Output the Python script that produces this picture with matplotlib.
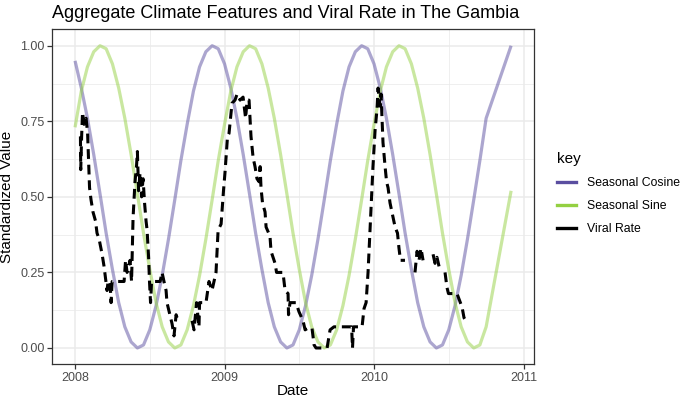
import numpy as np
import matplotlib
matplotlib.use('Agg')
import matplotlib.pyplot as plt
from matplotlib.lines import Line2D

plt.rcParams['font.family'] = ['Liberation Sans', 'DejaVu Sans']

season_t = [
    2008.000, 2008.042, 2008.083, 2008.125, 2008.167, 2008.208, 2008.250, 2008.292,
    2008.333, 2008.375, 2008.417, 2008.458, 2008.500, 2008.542, 2008.583, 2008.625,
    2008.667, 2008.708, 2008.750, 2008.792, 2008.833, 2008.875, 2008.917, 2008.958,
    2009.000, 2009.042, 2009.083, 2009.125, 2009.167, 2009.208, 2009.250, 2009.292,
    2009.333, 2009.375, 2009.417, 2009.458, 2009.500, 2009.542, 2009.583, 2009.625,
    2009.667, 2009.708, 2009.750, 2009.792, 2009.833, 2009.875, 2009.917, 2009.958,
    2010.000, 2010.042, 2010.083, 2010.125, 2010.167, 2010.208, 2010.250, 2010.292,
    2010.333, 2010.375, 2010.417, 2010.458, 2010.500, 2010.542, 2010.583, 2010.625,
    2010.667, 2010.708, 2010.750, 2010.917,
]
seasonal_cos = [
    0.95, 0.86, 0.76, 0.64, 0.51, 0.38, 0.26, 0.15, 0.07, 0.02, 0.00, 0.01,
    0.06, 0.14, 0.24, 0.36, 0.49, 0.62, 0.74, 0.85, 0.93, 0.98, 1.00, 0.99,
    0.94, 0.86, 0.76, 0.64, 0.51, 0.38, 0.26, 0.15, 0.07, 0.02, 0.00, 0.01,
    0.06, 0.14, 0.24, 0.36, 0.49, 0.62, 0.74, 0.85, 0.93, 0.98, 1.00, 0.99,
    0.94, 0.86, 0.76, 0.64, 0.51, 0.38, 0.26, 0.15, 0.07, 0.02, 0.00, 0.01,
    0.06, 0.14, 0.24, 0.36, 0.49, 0.62, 0.76, 1.00,
]
seasonal_sin = [
    0.73, 0.85, 0.93, 0.98, 1.00, 0.99, 0.94, 0.86, 0.76, 0.64, 0.51, 0.38,
    0.26, 0.15, 0.07, 0.02, 0.00, 0.01, 0.06, 0.14, 0.24, 0.36, 0.49, 0.62,
    0.74, 0.85, 0.93, 0.98, 1.00, 0.99, 0.94, 0.86, 0.76, 0.64, 0.51, 0.38,
    0.26, 0.15, 0.07, 0.02, 0.00, 0.01, 0.06, 0.14, 0.24, 0.36, 0.49, 0.62,
    0.74, 0.85, 0.93, 0.98, 1.00, 0.99, 0.94, 0.86, 0.76, 0.64, 0.51, 0.38,
    0.26, 0.15, 0.07, 0.02, 0.00, 0.01, 0.07, 0.52,
]

# viral rate, nan = missing weeks
viral_t = [
    2008.036, 2008.038, 2008.044, 2008.050, 2008.060, 2008.074, 2008.084, 2008.090,
    2008.097, 2008.107, 2008.120, 2008.137, 2008.147, 2008.161, 2008.181, 2008.194,
    2008.204, 2008.214, 2008.221, 2008.234, 2008.241, 2008.248, 2008.328, 2008.338,
    2008.348, 2008.368, 2008.378, 2008.388, 2008.401, 2008.411, 2008.417, 2008.425,
    2008.435, 2008.445, 2008.455, 2008.465, 2008.475, 2008.482, 2008.492, 2008.498,
    2008.505, 2008.512, 2008.569, 2008.582, 2008.595, 2008.609, 2008.615, 2008.632,
    2008.649, 2008.662, 2008.676, 2008.689, 2008.735, 2008.783, 2008.796, 2008.813,
    2008.823, 2008.829, 2008.833, 2008.876, 2008.896, 2008.916, 2008.943, 2008.957,
    2008.977, 2008.993, 2009.003, 2009.020, 2009.030, 2009.050, 2009.070, 2009.084,
    2009.104, 2009.124, 2009.141, 2009.151, 2009.164, 2009.177, 2009.191, 2009.204,
    2009.217, 2009.231, 2009.238, 2009.244, 2009.254, 2009.271, 2009.278, 2009.304,
    2009.311, 2009.338, 2009.348, 2009.391, 2009.405, 2009.425, 2009.428, 2009.438,
    2009.478, 2009.498, 2009.525, 2009.539, 2009.559, 2009.585, 2009.599, 2009.612,
    2009.686, 2009.706, 2009.732, 2009.793, 2009.850, 2009.856, 2009.863, 2009.920,
    2009.933, 2009.947, 2009.960, 2009.973, 2009.980, 2009.993, 2010.007, 2010.020,
    2010.027, 2010.040, 2010.047, 2010.060, 2010.074, 2010.084, 2010.094, 2010.107,
    2010.124, 2010.141, 2010.157, 2010.167, 2010.177, 2010.207, 2010.240, 2010.274,
    2010.288, 2010.301, 2010.314, 2010.328, 2010.360, 2010.395, 2010.408, 2010.421,
    2010.435, 2010.455, 2010.475, 2010.488, 2010.498, 2010.555, 2010.589, 2010.602,
    2010.615,
]
viral_rate = [
    0.70, 0.59, 0.70, 0.78, 0.74, 0.76, 0.71, 0.63,
    0.53, 0.49, 0.45, 0.42, 0.38, 0.36, 0.31, 0.27,
    0.23, 0.19, 0.22, 0.22, 0.15, 0.22, 0.22, 0.29,
    0.25, 0.29, 0.22, 0.43, 0.55, 0.60, 0.65, 0.52,
    0.58, 0.50, 0.56, 0.48, 0.42, 0.39, 0.30, 0.22,
    0.15, 0.22, 0.22, 0.25, 0.22, 0.19, 0.15, 0.115,
    0.08, 0.04, 0.11, 0.09, np.nan, 0.09, 0.06, 0.15,
    0.10, 0.07, 0.15, 0.15, 0.22, 0.19, 0.25, 0.39,
    0.41, 0.52, 0.58, 0.70, 0.71, 0.81, 0.82, 0.84,
    0.82, 0.83, 0.76, 0.82, 0.82, 0.70, 0.63, 0.60,
    0.56, 0.55, 0.60, 0.53, 0.48, 0.45, 0.40, 0.37,
    0.32, 0.28, 0.25, 0.25, 0.19, 0.18, 0.11, 0.15,
    0.15, 0.12, 0.09, 0.06, 0.066, 0.066, 0.01, 0.00,
    0.00, 0.06, 0.07, 0.07, 0.07, 0.00, 0.07, 0.07,
    0.13, 0.15, 0.25, 0.39, 0.47, 0.60, 0.72, 0.79,
    0.86, 0.80, 0.84, 0.68, 0.60, 0.55, 0.53, 0.48,
    0.44, 0.40, 0.38, 0.33, 0.29, 0.29, np.nan, 0.25,
    0.32, 0.29, 0.33, 0.29, np.nan, 0.31, 0.28, 0.30,
    0.27, np.nan, 0.25, 0.20, 0.18, 0.18, 0.135, 0.10,
    0.09,
]

keys = ['Seasonal Cosine', 'Seasonal Sine', 'Viral Rate']
key_colors = ['#5a4ea0', '#94d042', '#000000']

fig = plt.figure(figsize=(6.81, 4.0), dpi=100)
ax = fig.add_axes([0.0764, 0.09, 0.7077, 0.8365])

ax.plot(season_t, seasonal_cos, color=key_colors[0], lw=2.3, alpha=0.5, solid_capstyle='butt')
ax.plot(season_t, seasonal_sin, color=key_colors[1], lw=2.3, alpha=0.5, solid_capstyle='butt')
ax.plot(viral_t, viral_rate, color=key_colors[2], lw=2.2, dashes=(3.2, 1.9))

ax.set_xlim(2007.846, 2011.070)
ax.set_ylim(-0.053, 1.054)
ax.set_xticks([2008, 2009, 2010, 2011])
ax.set_xticklabels(['2008', '2009', '2010', '2011'])
ax.set_xticks([2008.5, 2009.5, 2010.5], minor=True)
ax.set_yticks([0, 0.25, 0.5, 0.75, 1.0])
ax.set_yticklabels(['0.00', '0.25', '0.50', '0.75', '1.00'])
ax.set_yticks([0.125, 0.375, 0.625, 0.875], minor=True)

ax.grid(True, which='major', color='#ebebeb', lw=1.1)
ax.grid(True, which='minor', color='#ebebeb', lw=0.55)
ax.set_axisbelow(True)
for s in ax.spines.values():
    s.set_color('#333333')
    s.set_linewidth(0.9)
ax.tick_params(which='major', length=3.5, width=0.9, color='#333333',
               labelsize=9, labelcolor='#4d4d4d', pad=2)
ax.tick_params(which='minor', length=0)

ax.set_xlabel('Date', fontsize=11, labelpad=0)
ax.set_ylabel('Standardized Value', fontsize=11, labelpad=4)
fig.text(0.0764, 0.965, 'Aggregate Climate Features and Viral Rate in The Gambia',
         fontsize=13, ha='left', va='center')

handles = [Line2D([], [], color=c, lw=2.4) for c in key_colors]
fig.legend(handles, keys, title='key', loc='upper left', bbox_to_anchor=(0.802, 0.648),
           frameon=False, alignment='left', fontsize=8.8, title_fontsize=11,
           handlelength=1.55, handletextpad=0.9, labelspacing=0.9)

fig.savefig('out.png', dpi=100)
